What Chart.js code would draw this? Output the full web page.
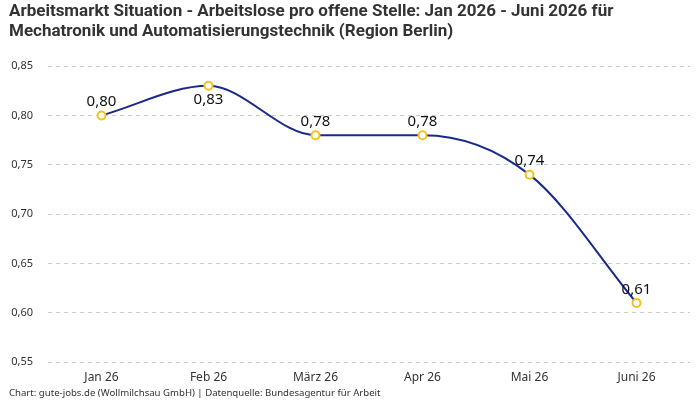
<!DOCTYPE html>
<html><head><meta charset="utf-8">
<script src="https://cdn.jsdelivr.net/npm/chart.js@4/dist/chart.umd.min.js"></script>
<style>html,body{margin:0;padding:0;background:#fff}#wrap{width:700px;height:400px}</style>
</head><body><div id="wrap"><canvas id="c" width="700" height="400"></canvas></div>
<script>
const categories = ["Jan 26","Feb 26","März 26","Apr 26","Mai 26","Juni 26"];
const values = [0.80, 0.83, 0.78, 0.78, 0.74, 0.61];
const titleLines = ["Arbeitsmarkt Situation - Arbeitslose pro offene Stelle: Jan 2026 - Juni 2026 für","Mechatronik und Automatisierungstechnik (Region Berlin)"];
const footerText = "Chart: gute-jobs.de (Wollmilchsau GmbH) | Datenquelle: Bundesagentur für Arbeit";
const fmt = v => v.toFixed(2).replace('.', ',');

const labelPlugin = {
  id: 'valLabels',
  afterDatasetsDraw(chart) {
    const ctx = chart.ctx;
    const meta = chart.getDatasetMeta(0);
    const data = chart.data.datasets[0].data;
    ctx.save();
    ctx.font = '15px "Noto Sans", sans-serif';
    ctx.fillStyle = '#111';
    ctx.textAlign = 'center';
    meta.data.forEach((pt, i) => {
      const v = data[i];
      const prev = i > 0 ? data[i-1] : -Infinity;
      const next = i < data.length-1 ? data[i+1] : -Infinity;
      const below = v > prev && v > next;
      if (below) { ctx.textBaseline = 'top'; ctx.fillText(fmt(v), pt.x, pt.y + 6); }
      else { ctx.textBaseline = 'bottom'; ctx.fillText(fmt(v), pt.x, pt.y - 6); }
    });
    ctx.restore();
  }
};

new Chart(document.getElementById('c'), {
  type: 'line',
  data: { labels: categories, datasets: [{
    data: values,
    borderColor: '#1a2a8a',
    borderWidth: 2,
    cubicInterpolationMode: 'monotone',
    pointRadius: 4,
    pointBorderWidth: 2,
    pointBorderColor: '#f7c21b',
    pointBackgroundColor: '#fff',
    fill: false
  }]},
  options: {
    responsive: false,
    animation: false,
    layout: { padding: { left: 9, right: 10, top: 0, bottom: 1 } },
    plugins: {
      legend: { display: false },
      tooltip: { enabled: false },
      title: { display: true, text: titleLines, align: 'start', color: '#333',
        font: { family: '"Liberation Sans Narrow", "Roboto", sans-serif', size: 17, weight: 'bold', lineHeight: 1.15 },
        padding: { top: 2, bottom: 25 } },
      subtitle: { display: true, position: 'bottom', align: 'start', text: footerText, color: '#333',
        font: { family: '"Noto Sans", sans-serif', size: 9.6 }, padding: { top: 3, bottom: 0 } }
    },
    scales: {
      x: { offset: true, grid: { display: false }, border: { display: false },
        ticks: { color: '#333', font: { family: '"Noto Sans", sans-serif', size: 12 }, padding: 0 } },
      y: { min: 0.55, max: 0.85,
        afterFit: s => { s.width = 39; },
        grid: { color: '#cccccc', tickLength: 0 },
        border: { display: false, dash: [4,4] },
        ticks: { stepSize: 0.05, color: '#333', padding: 15, font: { family: '"Noto Sans", sans-serif', size: 11 },
          callback: v => fmt(v) } }
    }
  },
  plugins: [labelPlugin]
});
</script></body></html>
